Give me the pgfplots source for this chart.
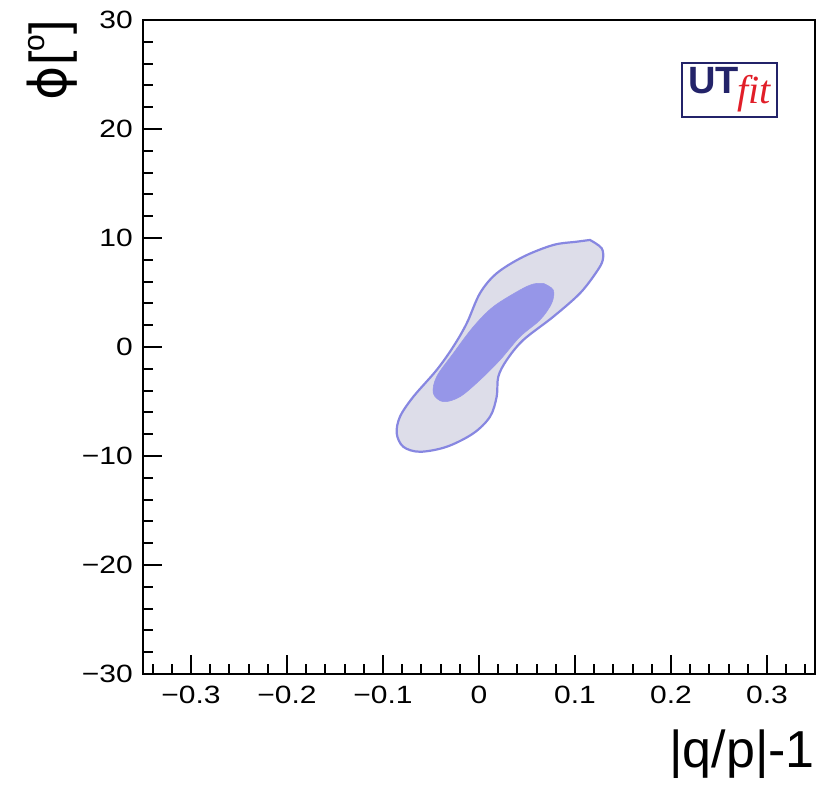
\documentclass[border=0pt]{standalone}
\usepackage{fontspec}
\setmainfont{Liberation Sans}
\newfontfamily\logoserif{Liberation Serif}
\newfontfamily\tickfont[FakeStretch=1.2]{Liberation Sans}
\newfontfamily\symfont{DejaVu Sans}
\usepackage{pgfplots}
\pgfplotsset{compat=1.18}
\definecolor{outerfill}{RGB}{221,221,233}
\definecolor{outerline}{RGB}{135,135,225}
\definecolor{innerfill}{RGB}{150,150,232}
\definecolor{logoblue}{RGB}{35,35,105}
\definecolor{logored}{RGB}{225,30,40}
\begin{document}
\begin{tikzpicture}
\begin{axis}[
  name=main,
  scale only axis, width=672pt, height=654pt,
  xmin=-0.35, xmax=0.35, ymin=-30, ymax=30,
  axis line style={line width=2pt},
  tick style={line width=2pt, black},
  tick align=inside,
  xtick pos=bottom, ytick pos=left,
  xtick={-0.3,-0.2,-0.1,0,0.1,0.2,0.3},
  xticklabels={−0.3,−0.2,−0.1,0,0.1,0.2,0.3},
  ytick={-30,-20,-10,0,10,20,30},
  yticklabels={−30,−20,−10,0,10,20,30},
  minor xtick={-0.34,-0.32,-0.28,-0.26,-0.24,-0.22,-0.18,-0.16,-0.14,-0.12,-0.08,-0.06,-0.04,-0.02,0.02,0.04,0.06,0.08,0.12,0.14,0.16,0.18,0.22,0.24,0.26,0.28,0.32,0.34},
  minor y tick num=4,
  major tick length=19pt, minor tick length=10pt,
  ticklabel style={font=\tickfont\fontsize{25}{25}\selectfont, inner sep=0pt},
  xticklabel style={yshift=-12pt},
  yticklabel style={xshift=-10pt},
  xlabel={|q/p|-1},
  xlabel style={at={(axis description cs:1,0)}, anchor=north east, inner sep=0pt,
    font=\fontsize{52}{52}\selectfont, yshift=-56pt},
  ylabel={{\symfont ϕ}[\raisebox{0.42em}{\fontsize{30}{30}\selectfont o}]},
  ylabel style={at={(axis description cs:-0.1726,1)}, anchor=north east, inner sep=0pt,
    font=\fontsize{52}{52}\selectfont},
  clip=false,
]
\addplot[fill=outerfill, draw=outerline, line width=2.2pt, smooth, tension=0.55, no markers] coordinates {
(0.1156,9.82) (0.1278,9.06) (0.1289,7.98) (0.1226,6.91) (0.1052,4.93) (0.0774,2.78)
(0.0461,0.64) (0.0289,-1.19) (0.0201,-2.72) (0.0184,-4.56) (0.0115,-6.39) (-0.0059,-7.92)
(-0.0336,-9.15) (-0.0615,-9.61) (-0.0789,-9.15) (-0.0857,-7.92) (-0.0823,-6.39) (-0.0684,-4.56)
(-0.0441,-2.11) (-0.0268,0.03) (-0.0128,2.17) (0.0010,4.93) (0.0184,6.76) (0.0461,8.28)
(0.0774,9.36) (0.1018,9.66) (0.1156,9.82)
} -- cycle;
\addplot[fill=innerfill, draw=innerfill, line width=0.5pt, smooth, tension=0.55, no markers] coordinates {
(0.0670,5.84) (0.0774,5.23) (0.0757,4.01) (0.0635,2.48) (0.0427,0.94) (0.0219,-1.19)
(0.0010,-3.03) (-0.0198,-4.56) (-0.0372,-5.02) (-0.0476,-4.25) (-0.0441,-2.72) (-0.0268,-0.58)
(-0.0059,1.86) (0.0149,3.70) (0.0427,5.23) (0.0566,5.78) (0.0670,5.84)
} -- cycle;
\node[draw=logoblue, line width=2.8pt, fill=white, minimum width=95pt, minimum height=54pt, inner sep=0pt]
  at (axis cs:0.261,23.58)
  {\textcolor{logoblue}{\fontsize{38}{38}\selectfont\bfseries UT}\kern-1pt\textcolor{logored}{\raisebox{-10pt}{\logoserif\itshape\fontsize{40}{40}\selectfont fit}}};
\end{axis}
\pgfresetboundingbox
\path[use as bounding box] ([shift={(-143pt,-111pt)}]main.south west) rectangle ([shift={(18pt,20pt)}]main.north east);
\end{tikzpicture}
\end{document}
